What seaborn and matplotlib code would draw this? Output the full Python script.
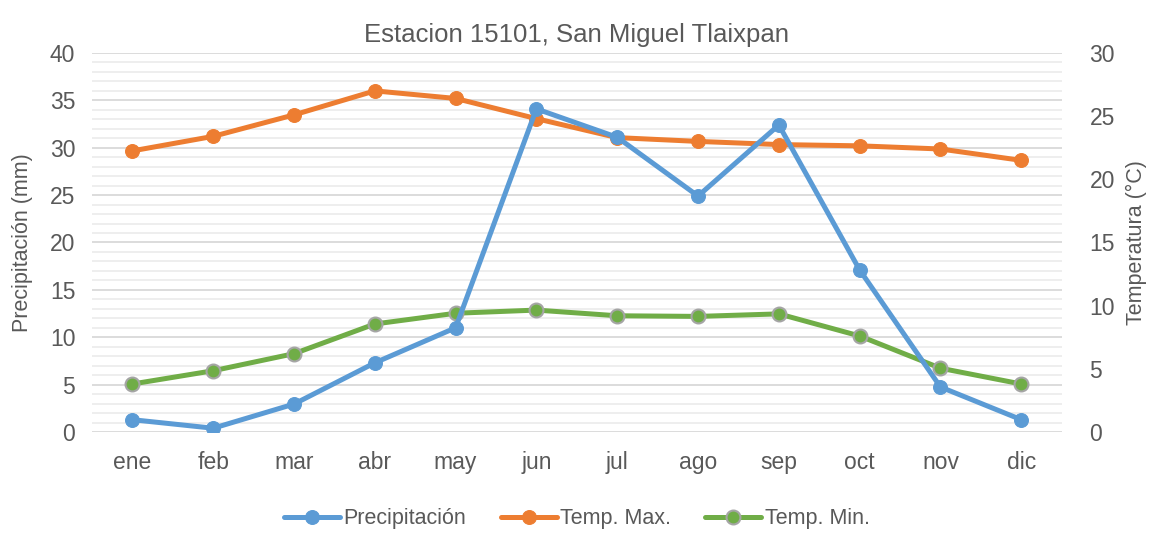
import matplotlib
matplotlib.use("Agg")
import matplotlib.pyplot as plt
import seaborn as sns
import pandas as pd
from matplotlib.ticker import MultipleLocator

# monthly climate normals
meses = ["ene", "feb", "mar", "abr", "may", "jun", "jul", "ago", "sep", "oct", "nov", "dic"]
precipitacion = [1.3, 0.4, 2.95, 7.3, 11.0, 34.1, 31.1, 24.9, 32.4, 17.1, 4.75, 1.3]
temp_max = [22.25, 23.4, 25.1, 27.0, 26.4, 24.8, 23.3, 23.0, 22.75, 22.65, 22.4, 21.5]
temp_min = [3.8, 4.85, 6.2, 8.55, 9.4, 9.65, 9.2, 9.15, 9.35, 7.6, 5.05, 3.8]

AZUL = "#5B9BD5"
NARANJA = "#ED7D31"
VERDE = "#70AD47"
TEXTO = "#595959"


def plot_estacion():
    sns.set_style("white")
    plt.rcParams["font.family"] = ["Liberation Sans Narrow", "Liberation Sans", "DejaVu Sans"]
    plt.rcParams["text.color"] = TEXTO
    plt.rcParams["axes.labelcolor"] = TEXTO

    df = pd.DataFrame({"mes": meses, "prec": precipitacion,
                       "tmax": temp_max, "tmin": temp_min})
    df["x"] = range(len(meses))

    fig = plt.figure(figsize=(11.54, 5.35), dpi=100)
    ax = fig.add_axes([0.0797, 0.1925, 0.8403, 0.7085])
    ax2 = ax.twinx()

    # gridlines (major every 5 mm, minor every 1 mm)
    ax.set_ylim(0, 40)
    ax.yaxis.set_major_locator(MultipleLocator(5))
    ax.yaxis.set_minor_locator(MultipleLocator(1))
    ax.grid(which="major", axis="y", color="#D9D9D9", lw=1.3)
    ax.grid(which="minor", axis="y", color="#EDEDED", lw=1.3)
    ax.set_axisbelow(True)

    lw = 3.6
    ms = 10
    sns.lineplot(data=df, x="x", y="prec", ax=ax2, color=AZUL, lw=lw,
                 marker="o", markersize=ms, markeredgecolor=AZUL, zorder=3)
    sns.lineplot(data=df, x="x", y="tmax", ax=ax2, color=NARANJA, lw=lw,
                 marker="o", markersize=ms, markeredgecolor=NARANJA, zorder=2)
    sns.lineplot(data=df, x="x", y="tmin", ax=ax2, color=VERDE, lw=lw,
                 marker="o", markersize=ms, markeredgecolor="#A5A5A5",
                 markeredgewidth=1.5, zorder=2)
    # precipitation belongs to the left scale: rescale the line drawn above
    prec_line = ax2.get_lines()[0]
    prec_line.set_ydata([p * 30 / 40 for p in precipitacion])

    ax2.set_ylim(0, 30)
    ax2.yaxis.set_major_locator(MultipleLocator(5))

    ax.set_xlim(-0.5, len(meses) - 0.5)
    ax.set_xticks(range(len(meses)))
    ax.set_xticklabels(meses)

    for a in (ax, ax2):
        for s in a.spines.values():
            s.set_visible(False)
        a.tick_params(which="both", length=0, labelsize=16.5, colors=TEXTO)
    ax.tick_params(axis="x", pad=14)
    ax.tick_params(axis="y", pad=12)
    ax2.tick_params(axis="y", pad=20)

    ax.set_xlabel("")
    ax.set_ylabel("Precipitación (mm)", fontsize=15.5, labelpad=12)
    ax2.set_ylabel("Temperatura (°C)", fontsize=15.5, labelpad=8, rotation=90)
    ax.set_title("Estacion 15101, San Miguel Tlaixpan", fontsize=18.5, color=TEXTO, pad=8)

    handles = ax2.get_lines()[:3]
    fig.legend(handles, ["Precipitación", "Temp. Max.", "Temp. Min."],
               loc="center", bbox_to_anchor=(0.5, 0.03), ncol=3, frameon=False,
               fontsize=15.5, handlelength=2.6, columnspacing=1.6, handletextpad=0.15)

    fig.savefig("out.png", dpi=100)


if __name__ == "__main__":
    plot_estacion()
